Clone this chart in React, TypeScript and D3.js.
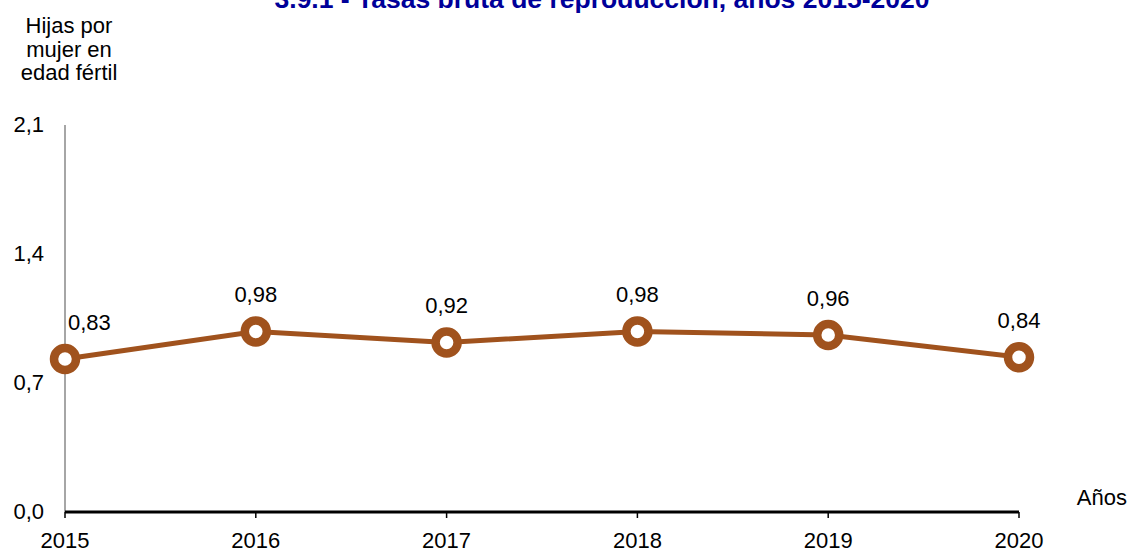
import React from 'react';
import * as d3 from 'd3';

// Tasas bruta de reproducción
const years = ['2015', '2016', '2017', '2018', '2019', '2020'];
const values = [0.83, 0.98, 0.92, 0.98, 0.96, 0.84];
const yTicks = [0, 0.7, 1.4, 2.1];

const title = '3.9.1 - Tasas bruta de reproducción, años 2015-2020';
const yTitle = ['Hijas por', 'mujer en', 'edad fértil'];
const xTitle = 'Años';

const fmt = (v: number, d: number) => v.toFixed(d).replace('.', ',');

export default function App() {
    const width = 1128;
    const height = 552;
    const brown = '#A0521D';
    const font = 'Liberation Sans, Arial, sans-serif';
    const fs = 22;

    const x = d3.scalePoint<string>().domain(years).range([65, 1019]);
    const y = d3.scaleLinear().domain([0, 2.1]).range([512, 125]);

    const line = d3.line<number>()
        .x((d, i) => x(years[i]) as number)
        .y((d) => y(d));

    return (
        <svg width={width} height={height}
            style={{ position: 'absolute', left: 0, top: 0, background: '#fff' }}
            fontFamily={font}>
            <text x={602} y={8} textAnchor="middle" fontSize={26.5}
                fontWeight="bold" fill="#000099">{title}</text>

            {yTitle.map((t, i) => (
                <text key={t} x={69} y={33 + i * 23.5} textAnchor="middle"
                    fontSize={fs} fill="#000">{t}</text>
            ))}

            {/* y axis */}
            <line x1={65} x2={65} y1={y(2.1)} y2={y(0)} stroke="#888" strokeWidth={1.5} />
            {yTicks.map((t) => (
                <text key={t} x={44} y={y(t) + 7} textAnchor="end" fontSize={fs}
                    fill="#000">{fmt(t, 1)}</text>
            ))}

            {/* x axis */}
            <line x1={x(years[0])} x2={x(years[years.length - 1])} y1={y(0)} y2={y(0)}
                stroke="#000" strokeWidth={3} />
            {years.map((yr) => (
                <g key={yr}>
                    <line x1={x(yr)} x2={x(yr)} y1={y(0)} y2={y(0) + 6}
                        stroke="#000" strokeWidth={1.5} />
                    <text x={x(yr)} y={548} textAnchor="middle" fontSize={fs}
                        fill="#000">{yr}</text>
                </g>
            ))}
            <text x={1127} y={505} textAnchor="end" fontSize={fs} fill="#000">{xTitle}</text>

            <path d={line(values) || ''} fill="none" stroke={brown} strokeWidth={5} />
            {values.map((v, i) => (
                <circle key={i} cx={x(years[i])} cy={y(v)} r={11}
                    fill="#fff" stroke={brown} strokeWidth={8.5} />
            ))}
            {values.map((v, i) => (
                <text key={'l' + i}
                    x={i === 0 ? (x(years[i]) as number) + 3 : x(years[i])}
                    y={y(v) - 29}
                    textAnchor={i === 0 ? 'start' : 'middle'}
                    fontSize={fs} fill="#000">{fmt(v, 2)}</text>
            ))}
        </svg>
    );
}
